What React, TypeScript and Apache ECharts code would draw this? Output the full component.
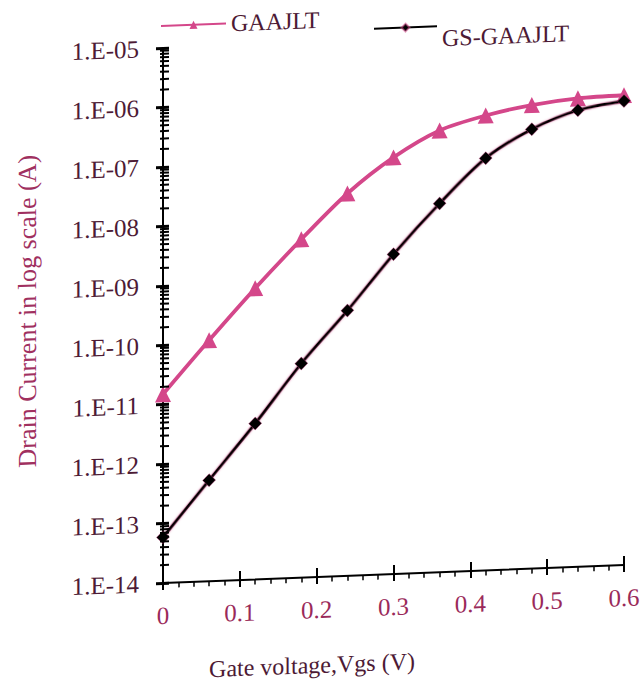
import React, { useEffect, useRef } from "react";
import * as echarts from "echarts";

const vgs = [0, 0.06, 0.12, 0.18, 0.24, 0.3, 0.36, 0.42, 0.48, 0.54, 0.6];
const gaajlt = [1.5e-11, 1.13e-10, 7.9e-10, 4.9e-9, 2.7e-8, 1.02e-7, 2.7e-7, 4.5e-7, 6.3e-7, 7.6e-7, 8.0e-7];
const gsGaajlt = [5.9e-14, 5.0e-13, 4.2e-12, 4.0e-11, 2.9e-10, 2.4e-9, 1.6e-8, 8.6e-8, 2.47e-7, 4.8e-7, 6.4e-7];
const seriesNames = ["GAAJLT", "GS-GAAJLT"];
const decadeExponents = [-14, -13, -12, -11, -10, -9, -8, -7, -6];
const minorMultipliers = [2, 3, 4, 5, 6, 7, 8, 9];
const xLabelTitle = "Gate voltage,Vgs (V)";
const yLabelTitle = "Drain Current in log scale (A)";

const FONT = "'Liberation Serif', 'Times New Roman', serif";
const PINK = "#d4478a";
const CHART_H = 700;

function fmtExp(v: number): string {
  const e = Math.round(Math.log10(v));
  const a = Math.abs(e);
  return "1.E" + (e < 0 ? "-" : "+") + (a < 10 ? "0" : "") + a;
}

export default function App() {
  const ref = useRef<HTMLDivElement>(null);
  useEffect(() => {
    if (!ref.current) return;
    const chart = echarts.init(ref.current, null, { renderer: "svg" });
    const minorTicks: number[][] = [];
    decadeExponents.forEach((e) =>
      minorMultipliers.forEach((m) => minorTicks.push([0, m * Math.pow(10, e)]))
    );
    const yBase = {
      type: "log",
      logBase: 10,
      min: 1e-14,
      max: 1e-5,
      interval: 1,
      splitLine: { show: false },
      minorTick: { show: false },
      minorSplitLine: { show: false },
    };
    const xBase = {
      type: "value",
      min: 0,
      max: 0.6,
      interval: 0.1,
      splitLine: { show: false },
    };
    const legendText = { fontSize: 24, fontFamily: FONT, color: "#4d1a35", lineHeight: 24 };
    chart.setOption({
      animation: false,
      backgroundColor: "#ffffff",
      grid: {
        left: 163,
        right: 20,
        top: 48,
        bottom: CHART_H - 583,
        containLabel: false,
        outerBoundsMode: "none",
      },
      legend: [
        {
          data: [seriesNames[0]],
          left: 155,
          top: 9,
          itemWidth: 65,
          itemHeight: 10,
          itemGap: 6,
          textStyle: legendText,
        },
        {
          data: [seriesNames[1]],
          left: 368,
          top: 27,
          itemWidth: 63,
          itemHeight: 10,
          formatter: () => "",
          textStyle: legendText,
        },
        {
          data: [seriesNames[1]],
          left: 368,
          top: 32,
          itemWidth: 63,
          itemHeight: 10,
          itemStyle: { opacity: 0 },
          lineStyle: { opacity: 0 },
          textStyle: legendText,
        },
      ],
      xAxis: [
        {
          ...xBase,
          position: "bottom",
          name: xLabelTitle,
          nameLocation: "middle",
          nameGap: 76,
          nameTextStyle: {
            fontSize: 24,
            fontFamily: FONT,
            color: "#4d1a35",
            padding: [0, 163, 0, 0],
          },
          axisLine: { show: true, lineStyle: { color: "#000", width: 2 } },
          axisTick: { show: true, inside: false, length: 7, lineStyle: { color: "#000", width: 2 } },
          minorTick: { show: true, splitNumber: 5, length: 5, lineStyle: { color: "#000", width: 1.5 } },
          axisLabel: { margin: 20, fontSize: 25, fontFamily: FONT, color: "#9a2a5a" },
        },
        {
          ...xBase,
          position: "bottom",
          axisLine: { show: false },
          axisTick: { show: true, inside: true, length: 9, lineStyle: { color: "#000", width: 2 } },
          axisLabel: { show: false },
        },
      ],
      yAxis: [
        {
          ...yBase,
          position: "left",
          name: yLabelTitle,
          nameLocation: "middle",
          nameGap: 123,
          nameRotate: 90,
          nameTextStyle: {
            fontSize: 26,
            fontFamily: FONT,
            color: "#a0305f",
            padding: [0, 0, 0, 19],
          },
          axisLine: { show: true, lineStyle: { color: "#000", width: 2 } },
          axisTick: { show: true, inside: false, length: 7, lineStyle: { color: "#000", width: 3 } },
          axisLabel: {
            margin: 24,
            fontSize: 25,
            fontFamily: FONT,
            color: "#4d1a35",
            formatter: (v: number) => fmtExp(v),
          },
        },
        {
          ...yBase,
          position: "left",
          axisLine: { show: false },
          axisTick: { show: true, inside: true, length: 6, lineStyle: { color: "#000", width: 3 } },
          axisLabel: { show: false },
        },
      ],
      series: [
        {
          type: "scatter",
          name: "minorY",
          xAxisIndex: 0,
          yAxisIndex: 0,
          silent: true,
          clip: false,
          z: 5,
          data: minorTicks,
          symbol: "rect",
          symbolSize: [9, 2],
          symbolOffset: [1.5, 0],
          itemStyle: { color: "#000", opacity: 1 },
        },
        {
          type: "line",
          name: seriesNames[0],
          xAxisIndex: 0,
          yAxisIndex: 0,
          data: vgs.map((x, i) => [x, gaajlt[i]]),
          smooth: 0.3,
          symbol: "triangle",
          symbolSize: 16,
          z: 3,
          itemStyle: { color: PINK },
          lineStyle: { color: PINK, width: 3.8 },
        },
        {
          type: "line",
          name: seriesNames[1],
          xAxisIndex: 0,
          yAxisIndex: 0,
          data: vgs.map((x, i) => [x, gsGaajlt[i]]),
          smooth: 0.3,
          symbol: "diamond",
          symbolSize: 13,
          z: 4,
          itemStyle: { color: "#000", borderColor: "rgba(214,71,138,0.5)", borderWidth: 0.8 },
          lineStyle: {
            color: "#000",
            width: 3,
            shadowColor: "rgba(214,71,138,0.6)",
            shadowBlur: 2,
          },
        },
      ],
    });
    return () => chart.dispose();
  }, []);
  return (
    <div
      style={{
        position: "absolute",
        left: 0,
        top: 0,
        width: 644,
        height: 681,
        overflow: "hidden",
        background: "#ffffff",
      }}
    >
      <div
        ref={ref}
        style={{
          position: "absolute",
          left: 0,
          top: 0,
          width: 644,
          height: CHART_H,
          transform: "skewY(-2.23deg)",
          transformOrigin: "163px 583px",
        }}
      />
    </div>
  );
}
